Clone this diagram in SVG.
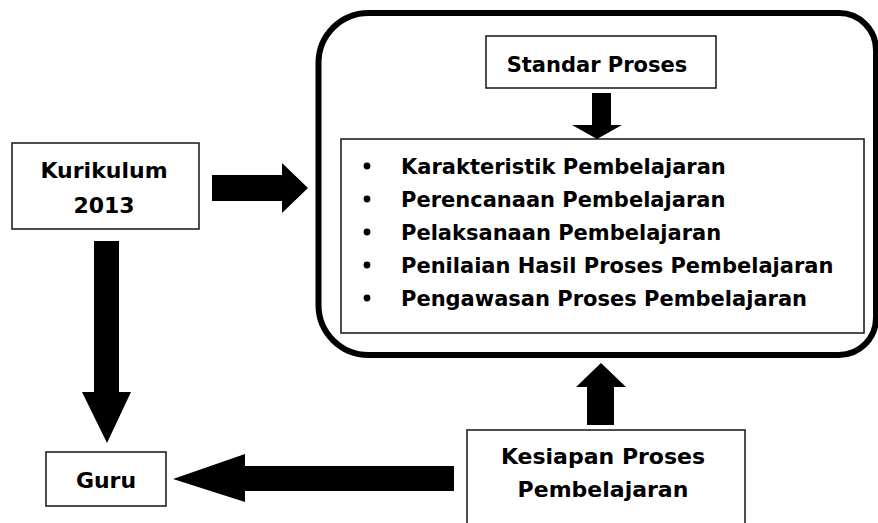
<svg xmlns="http://www.w3.org/2000/svg" width="878" height="523" viewBox="0 0 878 523">
<style>
.box{fill:#fff;stroke:#222;stroke-width:1.6}
.t{font-family:"DejaVu Sans",Verdana,sans-serif;font-weight:bold;fill:#000;text-anchor:middle}
.l{font-family:"DejaVu Sans",Verdana,sans-serif;font-weight:bold;fill:#000;font-size:21px}
.arr{fill:#000;stroke:none}
</style>
<rect width="878" height="523" fill="#fff"/>
<g id="standar-container">
<path d="M368.5,13 H839 A37,37 0 0 1 876,50 V318 A37,37 0 0 1 839,355 H368.5 A50,50 0 0 1 318.5,305 V63 A50,50 0 0 1 368.5,13 Z" fill="none" stroke="#000" stroke-width="6"/>
</g>
<g id="kurikulum">
<rect class="box" x="12" y="143" width="187" height="86"/>
<text class="t" font-size="22" x="104" y="178">Kurikulum</text>
<text class="t" font-size="22" x="104" y="213">2013</text>
</g>
<g id="standar-proses">
<rect class="box" x="486" y="36" width="230" height="52"/>
<text class="t" font-size="21" x="597" y="72">Standar Proses</text>
</g>
<g id="list">
<rect class="box" x="341" y="139" width="523" height="194"/>
<g class="l">
<circle cx="367" cy="166" r="3.4"/>
<circle cx="367" cy="199" r="3.4"/>
<circle cx="367" cy="232" r="3.4"/>
<circle cx="367" cy="265" r="3.4"/>
<circle cx="367" cy="298" r="3.4"/>
<text x="401" y="174">Karakteristik Pembelajaran</text>
<text x="401" y="207">Perencanaan Pembelajaran</text>
<text x="401" y="240">Pelaksanaan Pembelajaran</text>
<text x="401" y="273">Penilaian Hasil Proses Pembelajaran</text>
<text x="401" y="306">Pengawasan Proses Pembelajaran</text>
</g>
</g>
<g id="guru">
<rect class="box" x="46" y="452" width="120" height="54"/>
<text class="t" font-size="22" x="106" y="488">Guru</text>
</g>
<g id="kesiapan">
<rect class="box" x="467" y="430" width="278" height="100"/>
<text class="t" font-size="22" x="603" y="464">Kesiapan Proses</text>
<text class="t" font-size="22" x="603" y="497">Pembelajaran</text>
</g>
<g id="connectors">
<path class="arr" d="M212,175 H282 V163 L308,188 L282,213 V201 H212 Z"/>
<path class="arr" d="M94,241 H119 V392 H131 L107,443 L82,392 H94 Z"/>
<path class="arr" d="M454,466 V491 H245 V502 L173,479 L245,454 V466 Z"/>
<path class="arr" d="M587,425 V387 H576 L601,363 L626,387 H614 V425 Z"/>
<path class="arr" d="M592,93 H611 V125 H622 L597,139 L572,125 H592 Z"/>
</g>
</svg>
